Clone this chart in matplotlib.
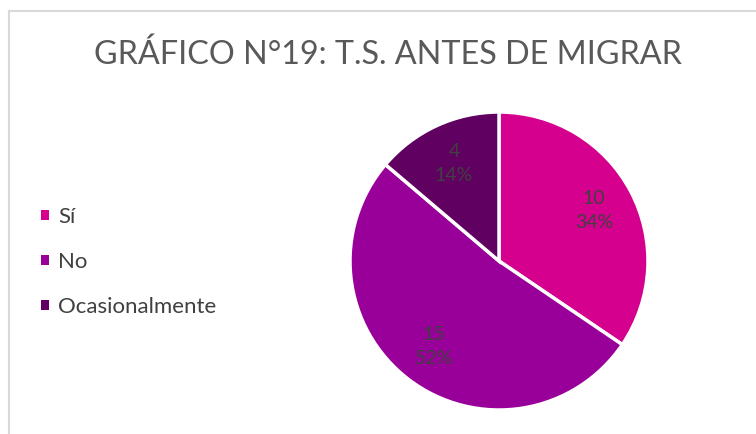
import matplotlib.pyplot as plt
from matplotlib.lines import Line2D

# data
categories = ['Sí', 'No', 'Ocasionalmente']
counts = [10, 15, 4]
colors = ['#D6008F', '#990099', '#600060']

plt.rcParams['font.family'] = ['Lato', 'DejaVu Sans']

fig = plt.figure(figsize=(7.56, 4.34), dpi=100)

# light grey chart frame (top and left edges visible)
fig.add_artist(Line2D([9/756, 9/756], [0, 1 - 11/434], color='#D9D9D9', lw=1.5, transform=fig.transFigure))
fig.add_artist(Line2D([9/756, 1], [1 - 11/434, 1 - 11/434], color='#D9D9D9', lw=1.5, transform=fig.transFigure))

fig.text(388/756, 1 - 55/434, 'GRÁFICO N°19: T.S. ANTES DE MIGRAR', ha='center', va='center',
         fontsize=23.3, color='#595959')

ax = fig.add_axes([350/756, 24/434, 298/756, 298/434])
total = sum(counts)


def lab(p):
    v = int(round(p * total / 100))
    return f'{v}\n{p:.0f}%'


wedges, texts, autotexts = ax.pie(counts, colors=colors, startangle=90, counterclock=False,
                                  autopct=lab, pctdistance=0.72,
                                  wedgeprops=dict(edgecolor='white', linewidth=2.5))
for t in autotexts:
    t.set_color('#404040')
    t.set_fontsize(14)
    t.set_linespacing(1.5)
ax.set_xlim(-1, 1)
ax.set_ylim(-1, 1)
ax.set_aspect('equal')

leg = fig.legend(wedges, categories, loc='center left', bbox_to_anchor=(21/756, 1 - 262/434),
                 frameon=False, fontsize=16, handlelength=0.36, handleheight=0.36,
                 labelspacing=1.12, handletextpad=0.4, labelcolor='#404040')
for h in leg.legend_handles:
    h.set_linewidth(0)

fig.savefig('out.png', dpi=100)
